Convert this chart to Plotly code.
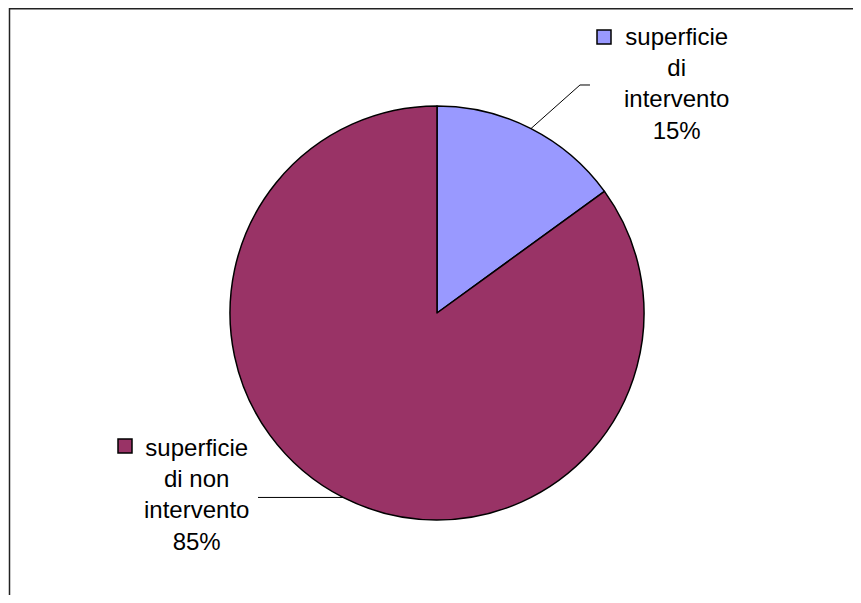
import math
import plotly.graph_objects as go

# data
labels = ['superficie di intervento', 'superficie di non intervento']
values = [15, 85]
colors = ['#9999FF', '#993366']
label_lines = [['superficie', 'di', 'intervento'], ['superficie', 'di non', 'intervento']]

# page body has an 8px margin, so the figure sits at (8, 8) in the window
OFF = 8
W, H = 861 - 2 * OFF, 603 - 2 * OFF


def px_x(x):
    return (x - OFF) / W


def px_y(y):
    return 1 - (y - OFF) / H


cx, cy, r = 437, 313, 207

fig = go.Figure()
fig.add_trace(go.Pie(labels=labels, values=values, sort=False, direction='clockwise', rotation=0,
                     marker=dict(colors=colors, line=dict(color='black', width=1.5)),
                     textinfo='none', hoverinfo='label+percent', showlegend=False,
                     domain=dict(x=[px_x(cx - r), px_x(cx + r)], y=[px_y(cy + r), px_y(cy - r)])))

# label boxes (layout positions) and leader lines from slice mid-angles
lab_pos = [(676, 83), (196, 494)]
key_pos = [(597, 30), (118, 439)]
elbows = [[(580, 85), (590, 85)], [(258, None)]]
total = sum(values)
cum = 0
for i, v in enumerate(values):
    mid = (cum + v / 2) / total * 2 * math.pi
    cum += v
    ex, ey = cx + r * math.sin(mid), cy - r * math.cos(mid)
    pct = round(v / total * 100)
    txt = '<br>'.join(label_lines[i] + ['%d%%' % pct])
    fig.add_annotation(x=px_x(lab_pos[i][0]), y=px_y(lab_pos[i][1]), xref='paper', yref='paper',
                       text=txt, showarrow=False, xanchor='center', yanchor='middle',
                       font=dict(family='Liberation Sans, Arial', size=24, color='black'))
    kx, ky = key_pos[i]
    fig.add_shape(type='rect', xref='paper', yref='paper', x0=px_x(kx), x1=px_x(kx + 14),
                  y0=px_y(ky), y1=px_y(ky + 14), fillcolor=colors[i], line=dict(color='black', width=1.5))
    pts = [(ex, ey)] + [(a, ey if b is None else b) for a, b in elbows[i]]
    path = 'M ' + ' L '.join('%f,%f' % (px_x(a), px_y(b)) for a, b in pts)
    fig.add_shape(type='path', xref='paper', yref='paper', path=path, line=dict(color='black', width=1))

# chart border (only top/left visible)
fig.add_shape(type='rect', xref='paper', yref='paper', x0=px_x(9.5), x1=px_x(880),
              y0=px_y(620), y1=px_y(8.8), line=dict(color='#222222', width=1.5))

fig.update_layout(width=W, height=H, margin=dict(l=0, r=0, t=0, b=0),
                  paper_bgcolor='white', plot_bgcolor='white')
fig.write_html('out.html')
